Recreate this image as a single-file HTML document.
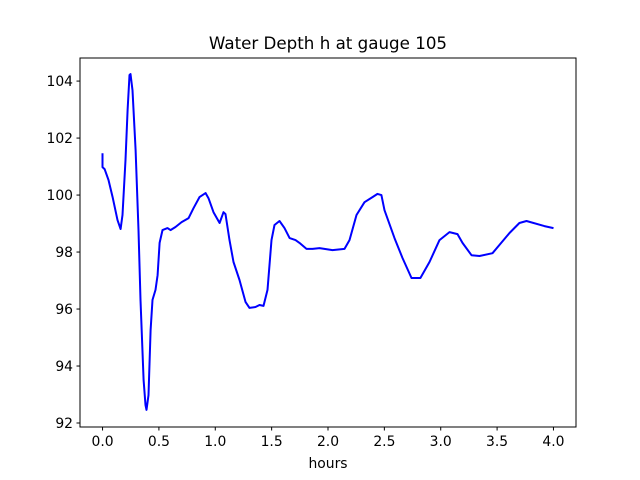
<!DOCTYPE html>
<html><head><meta charset="utf-8"><style>
html,body{margin:0;padding:0;background:#fff;}
svg{display:block;font-family:"DejaVu Sans","Liberation Sans",sans-serif;}
</style></head><body>
<svg id="chart" width="640" height="480" viewBox="0 0 640 480">
<rect width="640" height="480" fill="#fff"/>
<text x="328" y="49" text-anchor="middle" font-size="16.7" fill="#000">Water Depth h at gauge 105</text>
<g id="xt"></g>
<g id="yt"></g>
<polyline id="line" fill="none" stroke="#0000ff" stroke-width="2" stroke-linejoin="round"/>
<rect x="80" y="58" width="496" height="369" fill="none" stroke="#000" stroke-width="1"/>
<text x="328" y="468" text-anchor="middle" font-size="13.9">hours</text>
</svg>
<script>
const hours=[0,0,0.018,0.053,0.089,0.133,0.160,0.177,0.204,0.222,0.239,0.248,0.266,0.293,0.319,0.337,0.364,0.381,0.390,0.408,0.426,0.443,0.470,0.488,0.506,0.532,0.576,0.603,0.647,0.701,0.763,0.807,0.860,0.914,0.940,0.984,1.038,1.073,1.091,1.126,1.162,1.215,1.268,1.304,1.357,1.392,1.428,1.463,1.499,1.525,1.570,1.614,1.659,1.712,1.747,1.809,1.863,1.925,2.040,2.146,2.191,2.253,2.324,2.395,2.439,2.474,2.501,2.590,2.661,2.741,2.820,2.900,2.989,3.078,3.149,3.193,3.273,3.344,3.459,3.521,3.610,3.698,3.761,3.920,4.0];
const depth=[101.47,100.98,100.91,100.53,99.93,99.12,98.81,99.30,101.23,102.98,104.21,104.25,103.68,101.58,98.77,96.32,93.51,92.63,92.46,92.98,95.26,96.32,96.67,97.19,98.32,98.77,98.84,98.77,98.88,99.05,99.19,99.54,99.93,100.07,99.89,99.40,99.02,99.40,99.33,98.42,97.65,97.02,96.25,96.04,96.07,96.14,96.11,96.67,98.42,98.95,99.09,98.84,98.49,98.42,98.32,98.11,98.11,98.14,98.07,98.11,98.42,99.30,99.75,99.93,100.04,100.00,99.47,98.49,97.79,97.09,97.09,97.65,98.42,98.70,98.63,98.32,97.89,97.86,97.96,98.25,98.67,99.02,99.09,98.91,98.84];
const xTicks=[0,0.5,1,1.5,2,2.5,3,3.5,4];
const xTickLabels=["0.0","0.5","1.0","1.5","2.0","2.5","3.0","3.5","4.0"];
const yTicks=[92,94,96,98,100,102,104];
const yTickLabels=["92","94","96","98","100","102","104"];
const X=v=>80+(v+0.2)/4.4*496;
const Y=v=>427-(v-91.86)/(104.81-91.86)*369;
const NS="http://www.w3.org/2000/svg";
const xt=document.getElementById('xt'),yt=document.getElementById('yt');
xTicks.forEach((t,i)=>{
  const l=document.createElementNS(NS,'line');
  
  
  l.setAttribute('x1',X(t));l.setAttribute('x2',X(t));l.setAttribute('y1',427);l.setAttribute('y2',430.5);l.setAttribute('stroke','#000');
  xt.appendChild(l);
  const s=document.createElementNS(NS,'text');
  
  
  s.setAttribute('x',X(t));s.setAttribute('y',446);s.setAttribute('text-anchor','middle');s.setAttribute('font-size','13.9');
  s.textContent=xTickLabels[i];xt.appendChild(s);
});
yTicks.forEach((t,i)=>{
  const l=document.createElementNS(NS,'line');
  
  
  l.setAttribute('x1',76.5);l.setAttribute('x2',80);l.setAttribute('y1',Y(t));l.setAttribute('y2',Y(t));l.setAttribute('stroke','#000');
  yt.appendChild(l);
  const s=document.createElementNS(NS,'text');
  
  
  s.setAttribute('x',73);s.setAttribute('y',Y(t)+5);s.setAttribute('text-anchor','end');s.setAttribute('font-size','13.9');
  s.textContent=yTickLabels[i];yt.appendChild(s);
});
document.getElementById('line').setAttribute('points',hours.map((h,i)=>X(h).toFixed(1)+','+Y(depth[i]).toFixed(1)).join(' '));
</script>
</body></html>
